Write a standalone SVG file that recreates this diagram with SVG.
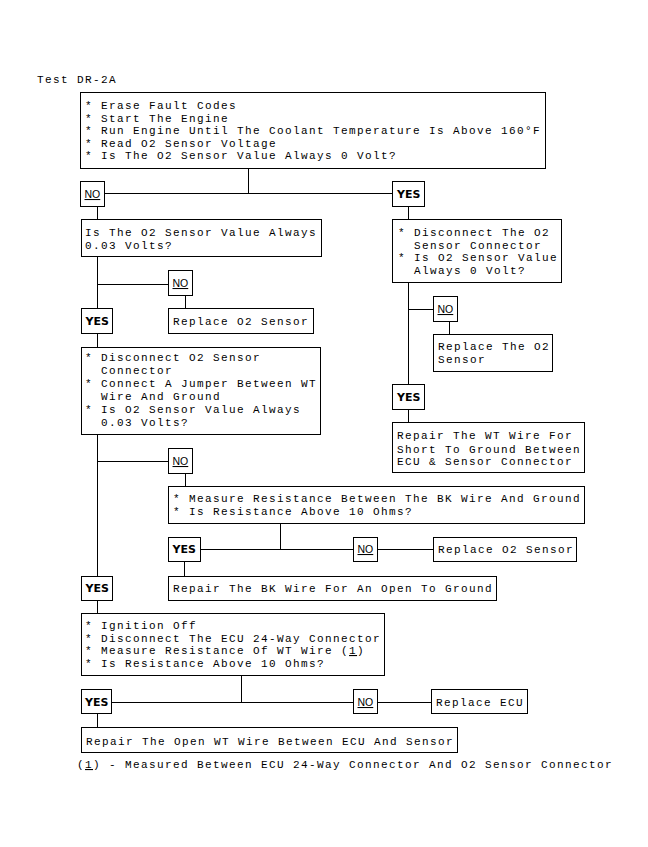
<svg xmlns="http://www.w3.org/2000/svg" width="648" height="847" viewBox="0 0 648 847">
<style>
  .bx { fill: #fff; stroke: #000; stroke-width: 1; }
  .ln { fill: none; stroke: #000; stroke-width: 1; }
  .t { font-family: "Liberation Mono", "DejaVu Sans Mono", monospace; font-size: 11px; letter-spacing: 1.4px; fill: #000; }
  .yes { font-family: "DejaVu Sans", "Liberation Sans", sans-serif; font-weight: bold; font-size: 11px; fill: #000; }
  .no { font-family: "Liberation Sans", "DejaVu Sans", sans-serif; font-size: 10.5px; fill: #000; text-decoration: underline; }
  .u { text-decoration: underline; }
</style>
<rect width="648" height="847" fill="#fff"/>
<text class="t" x="37" y="83">Test DR-2A</text>

<g id="connectors" shape-rendering="crispEdges">
  <path class="ln" d="M248.5 168 V193.5 M104 193.5 H392"/>
  <path class="ln" d="M97.5 207 V219"/>
  <path class="ln" d="M408.5 207 V219"/>
  <path class="ln" d="M97.5 257 V308 M97.5 284.5 H168"/>
  <path class="ln" d="M185.5 296 V308"/>
  <path class="ln" d="M97.5 334 V347"/>
  <path class="ln" d="M97.5 435 V576 M97.5 461.5 H168"/>
  <path class="ln" d="M185.5 473 V486"/>
  <path class="ln" d="M280.5 524 V549.5 M200 549.5 H353 M377 549.5 H433"/>
  <path class="ln" d="M184.5 562 V576"/>
  <path class="ln" d="M97.5 601 V613"/>
  <path class="ln" d="M241.5 676 V702.5 M112 702.5 H353 M377 702.5 H431"/>
  <path class="ln" d="M97.5 714 V727"/>
  <path class="ln" d="M408.5 283 V384 M408.5 309.5 H433"/>
  <path class="ln" d="M449.5 322 V334"/>
  <path class="ln" d="M408.5 410 V422"/>
</g>

<g id="n1">
  <rect class="bx" x="80.5" y="92.5" width="465" height="76"/>
  <text class="t"><tspan x="85" y="109">*</tspan><tspan x="101" y="109">Erase Fault Codes</tspan><tspan x="85" y="121.5">*</tspan><tspan x="101" y="121.5">Start The Engine</tspan><tspan x="85" y="134">*</tspan><tspan x="101" y="134">Run Engine Until The Coolant Temperature Is Above 160°F</tspan><tspan x="85" y="146.5">*</tspan><tspan x="101" y="146.5">Read O2 Sensor Voltage</tspan><tspan x="85" y="159">*</tspan><tspan x="101" y="159">Is The O2 Sensor Value Always 0 Volt?</tspan></text>
</g>

<g id="no1">
  <rect class="bx" x="80.5" y="181.5" width="24" height="25"/>
  <text class="no" x="84.5" y="198">NO</text>
</g>
<g id="yes1">
  <rect class="bx" x="392.5" y="181.5" width="32" height="25"/>
  <text class="yes" x="397" y="198">YES</text>
</g>

<g id="n2">
  <rect class="bx" x="81.5" y="219.5" width="240" height="37"/>
  <text class="t"><tspan x="85" y="236">Is The O2 Sensor Value Always</tspan><tspan x="85" y="248.5">0.03 Volts?</tspan></text>
</g>

<g id="no2">
  <rect class="bx" x="168.5" y="270.5" width="24" height="25"/>
  <text class="no" x="172.5" y="287">NO</text>
</g>
<g id="n3">
  <rect class="bx" x="168.5" y="308.5" width="145" height="25"/>
  <text class="t" x="173" y="325">Replace O2 Sensor</text>
</g>
<g id="yes2">
  <rect class="bx" x="81.5" y="308.5" width="31" height="25"/>
  <text class="yes" x="85.5" y="325">YES</text>
</g>

<g id="n4">
  <rect class="bx" x="81.5" y="347.5" width="239" height="87"/>
  <text class="t"><tspan x="85" y="361">*</tspan><tspan x="101" y="361">Disconnect O2 Sensor</tspan><tspan x="101" y="374">Connector</tspan><tspan x="85" y="387">*</tspan><tspan x="101" y="387">Connect A Jumper Between WT</tspan><tspan x="101" y="400">Wire And Ground</tspan><tspan x="85" y="413">*</tspan><tspan x="101" y="413">Is O2 Sensor Value Always</tspan><tspan x="101" y="426">0.03 Volts?</tspan></text>
</g>

<g id="no3">
  <rect class="bx" x="168.5" y="448.5" width="24" height="25"/>
  <text class="no" x="172.5" y="465">NO</text>
</g>

<g id="n5">
  <rect class="bx" x="168.5" y="486.5" width="416" height="37"/>
  <text class="t"><tspan x="173" y="502">*</tspan><tspan x="189" y="502">Measure Resistance Between The BK Wire And Ground</tspan><tspan x="173" y="514.5">*</tspan><tspan x="189" y="514.5">Is Resistance Above 10 Ohms?</tspan></text>
</g>

<g id="yes3">
  <rect class="bx" x="168.5" y="537.5" width="32" height="24"/>
  <text class="yes" x="172.5" y="553">YES</text>
</g>
<g id="no4">
  <rect class="bx" x="353.5" y="537.5" width="24" height="24"/>
  <text class="no" x="357.5" y="553">NO</text>
</g>
<g id="n6">
  <rect class="bx" x="433.5" y="537.5" width="143" height="24"/>
  <text class="t" x="438" y="553">Replace O2 Sensor</text>
</g>
<g id="n7">
  <rect class="bx" x="168.5" y="576.5" width="328" height="24"/>
  <text class="t" x="173" y="592">Repair The BK Wire For An Open To Ground</text>
</g>

<g id="yes4">
  <rect class="bx" x="81.5" y="576.5" width="31" height="24"/>
  <text class="yes" x="85.5" y="592">YES</text>
</g>

<g id="n8">
  <rect class="bx" x="81.5" y="613.5" width="303" height="62"/>
  <text class="t"><tspan x="85" y="628.5">*</tspan><tspan x="101" y="628.5">Ignition Off</tspan><tspan x="85" y="641.5">*</tspan><tspan x="101" y="641.5">Disconnect The ECU 24-Way Connector</tspan><tspan x="85" y="654">*</tspan><tspan x="101" y="654">Measure Resistance Of WT Wire (<tspan class="u">1</tspan>)</tspan><tspan x="85" y="666.5">*</tspan><tspan x="101" y="666.5">Is Resistance Above 10 Ohms?</tspan></text>
</g>

<g id="yes5">
  <rect class="bx" x="81.5" y="689.5" width="30" height="24"/>
  <text class="yes" x="85" y="706">YES</text>
</g>
<g id="no5">
  <rect class="bx" x="353.5" y="689.5" width="24" height="24"/>
  <text class="no" x="357.5" y="706">NO</text>
</g>
<g id="n9">
  <rect class="bx" x="431.5" y="689.5" width="96" height="24"/>
  <text class="t" x="436" y="706">Replace ECU</text>
</g>
<g id="n10">
  <rect class="bx" x="81.5" y="727.5" width="376" height="25"/>
  <text class="t" x="86" y="745">Repair The Open WT Wire Between ECU And Sensor</text>
</g>

<text class="t" x="77" y="768">(<tspan class="u">1</tspan>) - Measured Between ECU 24-Way Connector And O2 Sensor Connector</text>

<g id="r1">
  <rect class="bx" x="392.5" y="219.5" width="169" height="63"/>
  <text class="t"><tspan x="398" y="236">*</tspan><tspan x="414" y="236">Disconnect The O2</tspan><tspan x="414" y="248.5">Sensor Connector</tspan><tspan x="398" y="261">*</tspan><tspan x="414" y="261">Is O2 Sensor Value</tspan><tspan x="414" y="273.5">Always 0 Volt?</tspan></text>
</g>
<g id="noR">
  <rect class="bx" x="433.5" y="296.5" width="24" height="25"/>
  <text class="no" x="437.5" y="313">NO</text>
</g>
<g id="r2">
  <rect class="bx" x="433.5" y="334.5" width="119" height="37"/>
  <text class="t"><tspan x="438" y="350">Replace The O2</tspan><tspan x="438" y="362.5">Sensor</tspan></text>
</g>
<g id="yesR">
  <rect class="bx" x="392.5" y="384.5" width="32" height="25"/>
  <text class="yes" x="397" y="401">YES</text>
</g>
<g id="r3">
  <rect class="bx" x="392.5" y="422.5" width="192" height="50"/>
  <text class="t"><tspan x="397" y="439">Repair The WT Wire For</tspan><tspan x="397" y="452.5">Short To Ground Between</tspan><tspan x="397" y="465">ECU &amp; Sensor Connector</tspan></text>
</g>
</svg>
